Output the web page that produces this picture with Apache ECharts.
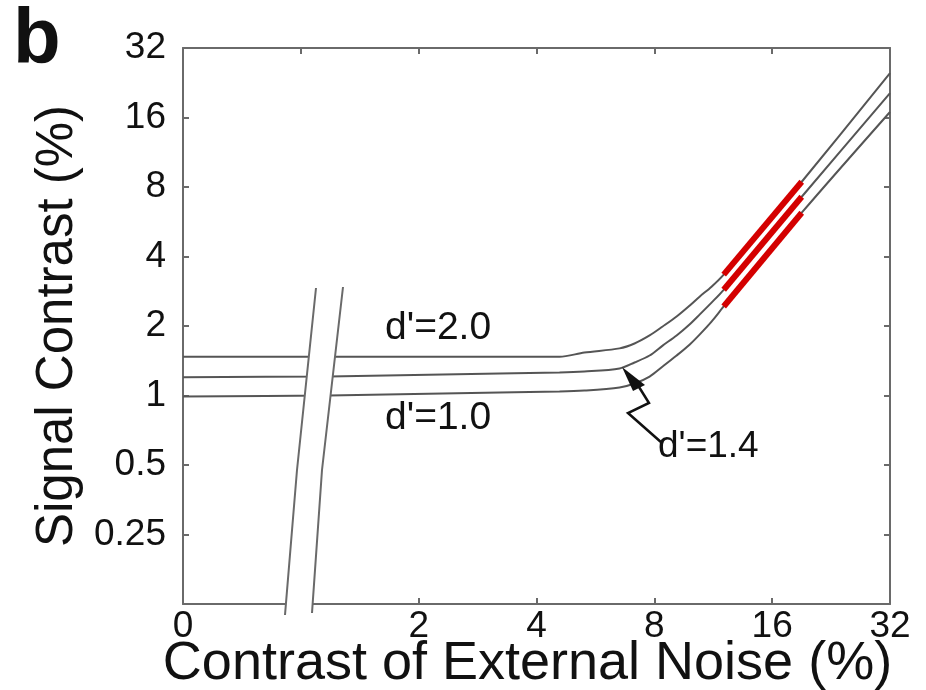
<!DOCTYPE html>
<html>
<head>
<meta charset="utf-8">
<script src="https://cdn.jsdelivr.net/npm/echarts@6/dist/echarts.min.js"></script>
<style>
html,body{margin:0;padding:0;background:#fff;}
#chart{width:926px;height:690px;}
</style>
</head>
<body>
<div id="chart"></div>
<script>
// External noise contrast (%). The first value (0.5) is where noise = 0 is drawn (left of the axis break).
const xNoise = [0.5, 1.18, 3.22, 4.58, 5.30, 6.52, 7.12, 7.78, 8.40, 9.12, 9.84, 10.44, 11.2, 12.03, 19.04, 32];
// Signal contrast thresholds (%) for each d' level
const d20 = [1.47, 1.47, 1.47, 1.47, 1.535, 1.60, 1.68, 1.82, 1.99, 2.20, 2.45, 2.68, 2.96, 3.34, 8.43, 24.9];
const d14 = [1.20, 1.21, 1.245, 1.257, 1.27, 1.31, 1.39, 1.49, 1.645, 1.82, 2.03, 2.24, 2.525, 2.87, 7.26, 20.4];
const d10 = [0.99, 1.00, 1.03, 1.04, 1.05, 1.083, 1.127, 1.208, 1.335, 1.49, 1.66, 1.836, 2.09, 2.43, 6.19, 16.9];
// Highlighted (red) segment range on each curve
const redX = [12.03, 19.04];
const redD20 = [3.34, 8.43];
const redD14 = [2.87, 7.26];
const redD10 = [2.43, 6.19];
// Tick labels
const xTickValues = [0.5, 2, 4, 8, 16, 32];
const xTickLabels = ['0', '2', '4', '8', '16', '32'];
const yTickValues = [0.25, 0.5, 1, 2, 4, 8, 16, 32];
const yTickLabels = ['0.25', '0.5', '1', '2', '4', '8', '16', '32'];
const curveLabels = ["d'=2.0", "d'=1.0", "d'=1.4"];

const FONT = 'Liberation Sans, Arial, Helvetica, sans-serif';
const AXIS_COLOR = '#6a6a6a';
const LINE_COLOR = '#555';
const RED = '#d40000';

function zip(xs, ys) { return xs.map((x, i) => [x, ys[i]]); }
function fmtX(v) {
  for (let i = 0; i < xTickValues.length; i++) if (Math.abs(v - xTickValues[i]) < 1e-6) return xTickLabels[i];
  return '';
}
function fmtY(v) {
  for (let i = 0; i < yTickValues.length; i++) if (Math.abs(v - yTickValues[i]) < 1e-6) return yTickLabels[i];
  return '';
}

const chart = echarts.init(document.getElementById('chart'), null, {renderer: 'canvas'});

const baseAxis = {
  type: 'log', logBase: 2,
  axisLine: {show: true, lineStyle: {color: AXIS_COLOR, width: 2}},
  axisTick: {show: true, inside: true, length: 6, lineStyle: {color: AXIS_COLOR, width: 2}},
  splitLine: {show: false},
  minorTick: {show: false}
};

function curve(data, name) {
  return {
    type: 'line', name: name, data: data, showSymbol: false, symbol: 'none',
    smooth: 0.3,
    lineStyle: {color: LINE_COLOR, width: 2}, z: 3, silent: true
  };
}
function redSeg(data) {
  return {
    type: 'line', data: data, showSymbol: false, symbol: 'none',
    lineStyle: {color: RED, width: 6, cap: 'butt'}, z: 4, silent: true
  };
}

const option = {
  animation: false,
  backgroundColor: '#ffffff',
  textStyle: {fontFamily: FONT},
  title: {
    text: 'b', left: 8, top: -3,
    textStyle: {fontSize: 78, fontWeight: 'bold', color: '#111', fontFamily: FONT}
  },
  grid: {left: 183, right: 36, top: 48, bottom: 86, containLabel: false, outerBoundsMode: 'none'},
  xAxis: [
    Object.assign({}, baseAxis, {
      position: 'bottom', min: 0.5, max: 32,
      axisLabel: {show: true, formatter: fmtX, fontSize: 37, color: '#111', margin: 4, fontFamily: FONT},
      name: 'Contrast of External Noise (%)', nameLocation: 'middle', nameGap: 33,
      nameMoveOverlap: false,
      nameTextStyle: {fontSize: 54, color: '#111', fontFamily: FONT, verticalAlign: 'top', padding: [0, 18, 0, 0]}
    }),
    Object.assign({}, baseAxis, {
      position: 'top', min: 0.5, max: 32, axisLabel: {show: false}
    })
  ],
  yAxis: [
    Object.assign({}, baseAxis, {
      position: 'left', min: 0.125, max: 32,
      axisLabel: {show: true, formatter: fmtY, fontSize: 37, color: '#111', margin: 17, fontFamily: FONT},
      name: 'Signal Contrast (%)', nameLocation: 'middle', nameGap: 100, nameRotate: 90,
      nameMoveOverlap: false,
      nameTextStyle: {fontSize: 51, color: '#111', fontFamily: FONT}
    }),
    Object.assign({}, baseAxis, {
      position: 'right', min: 0.125, max: 32, axisLabel: {show: false}
    })
  ],
  series: [
    curve(zip(xNoise, d20), "d'=2.0"),
    curve(zip(xNoise, d14), "d'=1.4"),
    curve(zip(xNoise, d10), "d'=1.0"),
    redSeg(zip(redX, redD20)),
    redSeg(zip(redX, redD14)),
    redSeg(zip(redX, redD10))
  ],
  graphic: [
    // axis break: white band hiding the lines, with two slanted edges
    {type: 'polygon', z: 100, silent: true,
     shape: {points: [[316, 288], [343, 287], [322, 470], [312, 613], [285, 615], [297, 470]]},
     style: {fill: '#fff', stroke: null}},
    {type: 'polyline', z: 101, silent: true,
     shape: {points: [[316, 288], [297, 470], [285, 615]]},
     style: {stroke: AXIS_COLOR, lineWidth: 2, fill: null}},
    {type: 'polyline', z: 101, silent: true,
     shape: {points: [[343, 287], [322, 470], [312, 613]]},
     style: {stroke: AXIS_COLOR, lineWidth: 2, fill: null}},
    // curve labels
    {type: 'text', z: 102, left: 385, top: 309, silent: true,
     style: {text: curveLabels[0], font: '39px ' + FONT, fill: '#111'}},
    {type: 'text', z: 102, left: 385, top: 399, silent: true,
     style: {text: curveLabels[1], font: '39px ' + FONT, fill: '#111'}},
    {type: 'text', z: 102, left: 658, top: 428, silent: true,
     style: {text: curveLabels[2], font: '37px ' + FONT, fill: '#111'}},
    // zig-zag pointer for d'=1.4
    {type: 'polyline', z: 102, silent: true,
     shape: {points: [[662, 443], [628, 413], [649, 403], [639, 387]]},
     style: {stroke: '#111', lineWidth: 2.5, fill: null}},
    {type: 'polygon', z: 102, silent: true,
     shape: {points: [[622, 367], [645, 385], [633, 391]]},
     style: {fill: '#111'}}
  ]
};
chart.setOption(option);
</script>
</body>
</html>
